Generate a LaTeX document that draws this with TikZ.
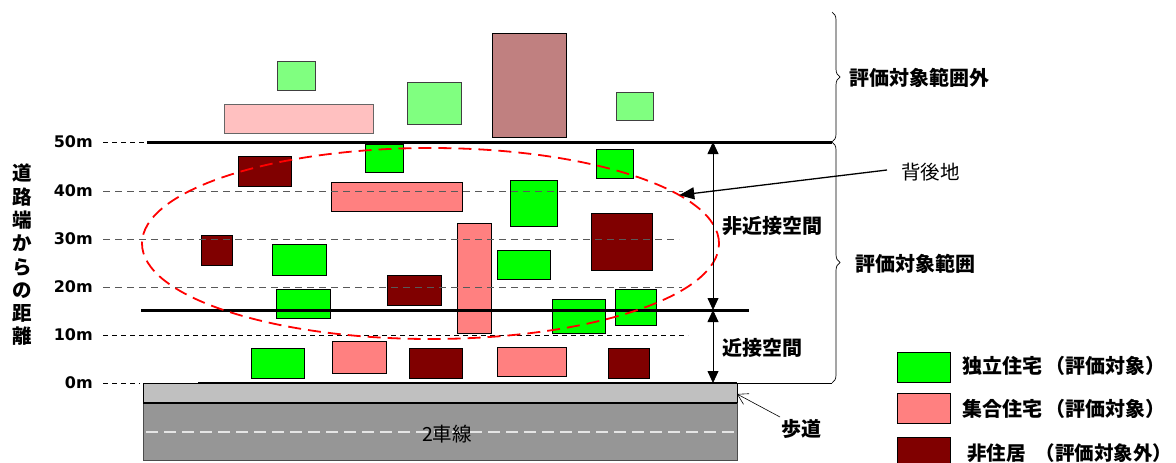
\documentclass[tikz,border=0pt]{standalone}
\usepackage{fontspec}
\setmainfont{Noto Sans CJK JP}
\newfontfamily\numfont{DejaVu Sans}
\usetikzlibrary{arrows.meta,decorations.pathreplacing,shapes.geometric}
\definecolor{G}{HTML}{00FF00}
\definecolor{P}{HTML}{FF8080}
\definecolor{D}{HTML}{800000}
\definecolor{LG}{HTML}{80FF80}
\definecolor{LP}{HTML}{FFC0C0}
\definecolor{LD}{HTML}{C08080}
\definecolor{SW}{HTML}{C0C0C0}
\definecolor{RD}{HTML}{969696}
\tikzset{
  box/.style={draw=black, line width=1pt},
  gr/.style={box, fill=G},
  pk/.style={box, fill=P},
  dk/.style={box, fill=D},
  lgr/.style={box, draw=black!75, fill=LG},
  lpk/.style={box, draw=black!60, fill=LP},
  ldk/.style={box, fill=LD},
  jlab/.style={font=\fontsize{20}{23}\selectfont\bfseries, inner sep=0pt},
  jreg/.style={font=\fontsize{19.5}{23}\selectfont, inner sep=0pt},
  tick/.style={font=\numfont\fontsize{16}{18}\selectfont\bfseries, anchor=east, inner sep=0pt},
  gdash/.style={draw=black!65, line width=1pt, dash pattern=on 7pt off 5pt},
  kdash/.style={draw=black, line width=0.8pt, dash pattern=on 5pt off 4pt},
  thick line/.style={draw=black, line width=3pt},
  dimarrow/.style={draw=black, line width=0.8pt, {Triangle[length=12pt,width=11pt]}-{Triangle[length=12pt,width=11pt]}},
  brc/.style={draw=black, line width=0.7pt, decorate, decoration={brace, amplitude=8pt}},
}
\begin{document}
\begin{tikzpicture}[x=1pt,y=-1pt]
\useasboundingbox (0,0) rectangle (1176,463);

% buildings beyond 50 m
\draw[lgr] (277,61) rectangle (315,90);
\draw[lpk] (224,104) rectangle (373,133);
\draw[lgr] (407,82) rectangle (461,124);
\draw[ldk] (492,33) rectangle (566,137);
\draw[lgr] (616,92) rectangle (653,120);

% buildings in evaluation range
\draw[dk] (238,156) rectangle (291,186);
\draw[gr] (365,144) rectangle (403,172);
\draw[pk] (331,182) rectangle (462,211);
\draw[gr] (596,149) rectangle (633,178);
\draw[gr] (510,180) rectangle (557,226);
\draw[dk] (591,213) rectangle (652,270);
\draw[dk] (201,235) rectangle (232,265);
\draw[gr] (272,244) rectangle (326,275);
\draw[pk] (457,223) rectangle (491,333);
\draw[gr] (497,250) rectangle (550,279);
\draw[dk] (387,275) rectangle (441,305);
\draw[gr] (276,289) rectangle (330,318);
\draw[gr] (552,299) rectangle (605,333);
\draw[gr] (615,289) rectangle (656,325);
% near row
\draw[gr] (251,348) rectangle (304,378);
\draw[pk] (332,341) rectangle (386,373);
\draw[dk] (409,348) rectangle (462,378);
\draw[pk] (497,347) rectangle (566,376);
\draw[dk] (608,348) rectangle (649,378);

% distance ticks
\node[tick] (t50) at (93,142) {50m};
\node[tick] (t40) at (93,191) {40m};
\node[tick] (t30) at (93,239) {30m};
\node[tick] (t20) at (93,287) {20m};
\node[tick] (t10) at (93,335) {10m};
\node[tick] (t0)  at (93,383) {0m};

\draw[kdash] (103,142) -- (147,142);
\draw[gdash] (103,191) -- (683,191);
\draw[gdash] (103,239) -- (679,239);
\draw[gdash] (103,287) -- (682,287);
\draw[kdash] (103,335) -- (688,335);
\draw[kdash] (103,383) -- (140,383);

% boundary lines
\draw[thick line] (147,142) -- (832,142);
\draw[thick line] (141,310) -- (749,310);

% road
\draw[draw=black, line width=0.8pt, fill=SW] (143,383) rectangle (737,403);
\draw[draw=black!70, line width=0.8pt, fill=RD] (143,403) rectangle (737,460);
\draw[black, line width=2pt] (143,403) -- (737,403);
\draw[draw=black!10, line width=1.3pt, dash pattern=on 12pt off 6pt] (146,432) -- (735,432);
\node[jreg] (lanes) at (447,434) {2車線};
\draw[black, line width=2pt] (198,383) -- (737,383);
\draw[black, line width=1pt] (737,383) -- (832,383);

% background area ellipse
\node[ellipse, draw=red, line width=1.8pt, dash pattern=on 13pt off 7pt,
      minimum width=577pt, minimum height=191pt, inner sep=0pt, outer sep=0pt]
      (area) at (430.5,243.5) {};

% dimension arrows
\coordinate (v50) at (713,142);
\coordinate (v15) at (713,310);
\coordinate (v0) at (713,383);
\draw[dimarrow] (v50) -- (v15);
\draw[dimarrow] (v15) -- (v0);
\node[jlab, anchor=west] (far) at (722,226) {非近接空間};
\node[jlab, anchor=west] (near) at (722,348) {近接空間};

% braces
\coordinate (b1) at (832,12);
\coordinate (b2) at (832,142);
\coordinate (b3) at (832,383);
\draw[brc] (b1) -- (b2);
\draw[brc] (b2) -- (b3);
\node[jlab, anchor=west] (outside) at (849,78) {評価対象範囲外};
\node[jlab, anchor=west] (inside) at (855,264) {評価対象範囲};

% background label
\node[jreg, anchor=west] (haigo) at (901,172) {背後地};
\draw[black, line width=1.3pt, -{Triangle[length=15pt,width=12pt]}] (haigo.west) ++(-14,-2) coordinate (hs) -- (area.11.6);
% sidewalk label
\node[jlab, anchor=west] (hodo) at (781,429) {歩道};
\coordinate (hs2) at (780,417);
\coordinate (swtip) at (737,394);
\draw[black, line width=0.6pt, -{Straight Barb[length=10pt,width=12pt]}] (hs2) -- (swtip);

% vertical axis title
\node[jlab, align=center, font=\fontsize{19.5}{23.3}\selectfont\bfseries] (axis) at (22,255) {道\\路\\端\\か\\ら\\の\\距\\離};

% legend
\draw[gr] (897,352) rectangle (950,382);
\draw[pk] (897,393) rectangle (950,423);
\draw[dk] (897,437) rectangle (950,468);
\node[jlab, anchor=west] (lg1) at (962,366) {独立住宅\hspace{3pt}（評価対象）};
\node[jlab, anchor=west] (lg2) at (962,409) {集合住宅\hspace{3pt}（評価対象）};
\node[jlab, anchor=west, font=\fontsize{19.5}{23}\selectfont\bfseries] (lg3) at (967,453) {非住居\hspace{10pt}（評価対象外）};
\end{tikzpicture}
\end{document}
